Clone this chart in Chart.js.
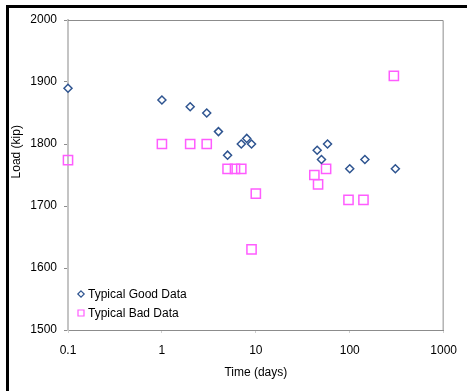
<!DOCTYPE html>
<html>
<head>
<meta charset="utf-8">
<script src="https://cdn.jsdelivr.net/npm/chart.js@4.4.0/dist/chart.umd.min.js"></script>
<style>
html,body{margin:0;padding:0;background:#fff;width:467px;height:391px;overflow:hidden}
canvas{display:block}
</style>
</head>
<body>
<canvas id="c" width="467" height="391"></canvas>
<script>
// Data
const goodDays = [0.1, 1, 2, 3, 4, 5, 7, 8, 9, 45, 50, 58, 100, 145, 306];
const goodLoad = [1890, 1871, 1860, 1850, 1820, 1782, 1800, 1809, 1800, 1790, 1775, 1800, 1760, 1775, 1760];
const badDays = [0.1, 1, 2, 3, 5, 6, 7, 9, 10, 42, 46, 56, 97, 140, 295];
const badLoad = [1774, 1800, 1800, 1800, 1760, 1760, 1760, 1630, 1720, 1750, 1735, 1760, 1710, 1710, 1910];
const xTickValues = [0.1, 1, 10, 100, 1000];
const xTickLabels = ['0.1', '1', '10', '100', '1000'];
const seriesNames = ['Typical Good Data', 'Typical Bad Data'];
const xTitle = 'Time (days)';
const yTitle = 'Load (kip)';

const FONT = "'Liberation Sans', Arial, sans-serif";
const toPts = (xs, ys) => xs.map((x, i) => ({x: x, y: ys[i]}));

// Outer black frame (top and left edges only, as in the reference crop)
const outerFrame = {
  id: 'outerFrame',
  beforeDraw(chart) {
    const {ctx, width, height} = chart;
    ctx.save();
    ctx.fillStyle = '#000';
    ctx.fillRect(6, 5, width - 6, 3);
    ctx.fillRect(6, 5, 3, height - 5);
    ctx.restore();
  }
};

const plotFrame = {
  id: 'plotFrame',
  beforeDatasetsDraw(chart) {
    const {ctx, chartArea: a} = chart;
    ctx.save();
    ctx.strokeStyle = '#8c8c8c';
    ctx.lineWidth = 1;
    ctx.beginPath();
    ctx.moveTo(a.left, a.top + 0.5);
    ctx.lineTo(a.right - 0.5, a.top + 0.5);
    ctx.lineTo(a.right - 0.5, a.bottom);
    ctx.stroke();
    ctx.restore();
  }
};

const yTitlePlugin = {
  id: 'yTitlePlugin',
  afterDraw(chart) {
    const {ctx, chartArea: a} = chart;
    ctx.save();
    ctx.translate(a.left - 51, a.top + (a.bottom - a.top) * 0.425);
    ctx.rotate(-Math.PI / 2);
    ctx.font = '12px ' + FONT;
    ctx.fillStyle = '#000';
    ctx.textAlign = 'center';
    ctx.textBaseline = 'middle';
    ctx.fillText(yTitle, 0, 0);
    ctx.restore();
  }
};

// Legend inside the plot, bottom-left
const insideLegend = {
  id: 'insideLegend',
  afterDraw(chart) {
    const {ctx, chartArea: a} = chart;
    const sets = chart.data.datasets;
    ctx.save();
    ctx.font = '12px ' + FONT;
    ctx.textBaseline = 'middle';
    ctx.textAlign = 'left';
    sets.forEach((ds, i) => {
      const cy = a.bottom - 36 + i * 19;
      const cx = a.left + 13;
      ctx.beginPath();
      ctx.lineWidth = 1.2;
      ctx.strokeStyle = ds.borderColor;
      if (ds.pointStyle === 'rectRot') {
        const r = 3.2;
        ctx.moveTo(cx, cy - r); ctx.lineTo(cx + r, cy); ctx.lineTo(cx, cy + r); ctx.lineTo(cx - r, cy); ctx.closePath();
      } else {
        const h = 3;
        ctx.rect(cx - h, cy - h, 2 * h, 2 * h);
      }
      ctx.stroke();
      ctx.fillStyle = '#000';
      ctx.fillText(ds.label, cx + 7, cy + 0.5);
    });
    ctx.restore();
  }
};

new Chart(document.getElementById('c'), {
  type: 'scatter',
  data: {
    datasets: [
      {
        label: seriesNames[0],
        data: toPts(goodDays, goodLoad),
        pointStyle: 'rectRot',
        pointRadius: 4,
        pointHoverRadius: 4,
        borderColor: '#2e5490',
        backgroundColor: '#ffffff',
        pointBorderWidth: 1.5,
        clip: false
      },
      {
        label: seriesNames[1],
        data: toPts(badDays, badLoad),
        pointStyle: 'rect',
        pointRadius: 6.5,
        pointHoverRadius: 6.5,
        borderColor: '#ff5cff',
        backgroundColor: 'rgba(255,255,255,0)',
        pointBorderWidth: 1.5,
        clip: false
      }
    ]
  },
  options: {
    responsive: false,
    animation: false,
    events: [],
    layout: {padding: {top: 20, right: 23, left: 0, bottom: 0}},
    plugins: {
      tooltip: {enabled: false},
      legend: {display: false}
    },
    scales: {
      x: {
        type: 'logarithmic',
        min: 0.1,
        max: 1000,
        afterBuildTicks: (s) => { s.ticks = xTickValues.map(v => ({value: v})); },
        afterFit: (s) => { s.height = 61; },
        border: {color: '#8c8c8c', width: 1},
        grid: {drawOnChartArea: false, drawTicks: true, tickLength: 3, color: '#cfcfcf'},
        ticks: {
          autoSkip: false,
          maxRotation: 0,
          padding: 10,
          color: '#000',
          font: {size: 12, family: FONT},
          callback: (v) => { const i = xTickValues.indexOf(v); return i >= 0 ? xTickLabels[i] : ''; }
        },
        title: {display: true, text: xTitle, color: '#000', font: {size: 12, family: FONT}, padding: {top: 4, bottom: 11}}
      },
      y: {
        type: 'linear',
        min: 1500,
        max: 2000,
        afterFit: (s) => { s.width = 68; },
        border: {color: '#c4c4c4', width: 2},
        grid: {drawOnChartArea: false, drawTicks: true, tickLength: 4, color: '#8c8c8c'},
        ticks: {stepSize: 100, padding: 7, color: '#000', font: {size: 12, family: FONT}, callback: (v) => String(v)}
      }
    }
  },
  plugins: [outerFrame, plotFrame, yTitlePlugin, insideLegend]
});
</script>
</body>
</html>
